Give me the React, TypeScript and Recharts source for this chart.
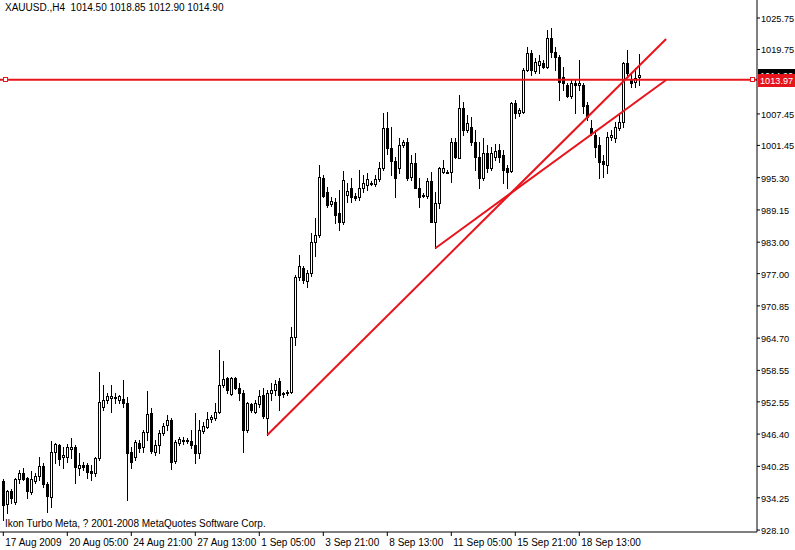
import React from 'react';
import { ComposedChart, Bar, XAxis, YAxis, ReferenceLine } from 'recharts';

// H4 bars, XAUUSD, 17 Aug 2009 .. 18 Sep 2009
const opens = [
  937.51, 933.07, 935.55, 933.39, 937.83, 938.92, 938.08, 935.41, 937.51, 938.41,
  940.31, 936.82, 934.46, 942.93, 944.32, 942.09, 942.09, 943.56, 944.0, 939.99,
  940.5, 940.56, 939.36, 938.92, 941.9, 951.51, 952.9, 953.22, 953.34, 952.9,
  953.03, 952.27, 943.04, 942.09, 944.64, 943.88, 946.86, 950.48, 943.04, 944.32,
  946.67, 948.13, 949.09, 941.27, 944.76, 945.14, 945.27, 945.14, 944.32, 942.74,
  947.05, 947.69, 949.33, 949.53, 950.55, 955.76, 957.04, 954.04, 957.04, 955.25,
  954.29, 947.18, 952.08, 950.67, 952.08, 953.85, 949.47, 954.18, 954.81, 956.58,
  954.18, 954.18, 954.43, 964.97, 976.36, 978.07, 975.59, 977.12, 983.03, 984.37,
  995.24, 992.57, 990.28, 990.72, 988.56, 986.84, 991.99, 993.33, 991.86, 991.61,
  993.33, 993.9, 994.23, 994.09, 995.04, 997.14, 1004.77, 1001.01, 998.48, 997.14,
  1001.53, 1002.16, 995.43, 998.1, 993.33, 991.99, 991.8, 994.66, 986.9, 990.47,
  996.44, 996.44, 996.32, 1002.16, 999.11, 1008.64, 1004.39, 1005.02, 1002.16, 999.3,
  995.29, 1000.0, 997.2, 999.3, 1000.57, 999.62, 997.14, 996.63, 1009.6, 1007.69,
  1007.88, 1015.83, 1019.02, 1015.7, 1016.78, 1017.11, 1016.46, 1021.88, 1019.32, 1018.25,
  1014.55, 1012.97, 1010.87, 1013.29, 1012.97, 1012.97, 1009.16, 1004.71, 1003.44, 1001.53,
  998.53, 997.71, 1003.0, 1002.81, 1004.71, 1005.97, 1017.11, 1014.06, 1013.6, 1014.5,
];
const highs = [
  937.83, 935.74, 935.87, 937.97, 939.55, 939.87, 938.27, 939.42, 939.04, 942.09,
  940.83, 937.32, 945.14, 944.76, 944.51, 944.0, 944.51, 945.6, 944.32, 942.74,
  941.13, 940.83, 940.5, 942.09, 958.3, 955.76, 954.18, 955.76, 954.18, 953.85,
  956.71, 953.53, 944.0, 945.27, 945.27, 947.18, 954.62, 951.43, 945.27, 947.18,
  948.46, 950.04, 949.41, 945.27, 945.79, 945.79, 945.6, 947.18, 950.36, 949.09,
  948.76, 950.67, 950.04, 952.27, 962.43, 960.4, 957.34, 957.34, 957.34, 956.08,
  954.81, 952.58, 952.27, 952.9, 954.81, 955.13, 954.81, 956.08, 956.71, 957.04,
  954.48, 954.81, 966.88, 976.74, 980.55, 978.45, 977.69, 984.75, 987.61, 997.71,
  995.81, 993.58, 991.67, 991.36, 992.95, 996.57, 994.23, 995.18, 992.32, 996.76,
  995.81, 996.13, 994.66, 995.81, 998.34, 1007.57, 1007.88, 1005.02, 999.3, 1002.81,
  1002.48, 1002.81, 999.62, 999.95, 995.18, 992.32, 995.18, 996.44, 992.62, 997.39,
  998.67, 996.76, 1002.81, 1002.81, 1011.06, 1009.79, 1007.25, 1006.93, 1004.39, 1002.16,
  1002.81, 1001.53, 1001.2, 1001.66, 1001.66, 1000.57, 997.71, 1009.79, 1010.11, 1008.58,
  1016.16, 1020.27, 1019.64, 1018.06, 1018.69, 1017.74, 1023.46, 1023.78, 1020.27, 1018.69,
  1016.46, 1013.29, 1014.06, 1013.93, 1017.74, 1013.29, 1009.79, 1006.3, 1004.39, 1003.11,
  999.62, 1004.06, 1004.39, 1005.97, 1007.57, 1017.41, 1019.64, 1015.2, 1016.16, 1018.85,
];
const lows = [
  930.02, 931.35, 933.2, 933.07, 937.01, 937.64, 934.15, 934.97, 937.13, 937.64,
  936.37, 931.6, 932.44, 940.83, 940.5, 939.87, 941.13, 941.78, 937.01, 938.6,
  939.55, 937.97, 937.64, 938.41, 941.46, 950.99, 952.27, 950.67, 952.39, 952.39,
  951.62, 933.83, 939.87, 941.46, 943.04, 943.04, 945.27, 942.74, 942.41, 942.74,
  946.23, 947.18, 939.68, 940.83, 944.32, 944.51, 944.64, 943.69, 940.94, 941.78,
  946.55, 947.5, 948.76, 949.09, 950.36, 955.44, 954.18, 953.85, 954.94, 952.9,
  942.93, 946.86, 950.67, 950.36, 951.62, 949.41, 946.23, 952.9, 953.85, 950.99,
  953.53, 953.85, 954.18, 963.39, 975.78, 975.15, 974.51, 976.55, 980.36, 984.04,
  991.67, 989.76, 989.9, 986.6, 985.32, 986.46, 990.72, 990.72, 991.04, 991.04,
  992.62, 992.95, 993.9, 993.71, 994.66, 996.76, 999.76, 995.81, 991.67, 996.13,
  1001.2, 994.85, 994.85, 993.27, 989.76, 991.61, 991.36, 986.84, 981.83, 989.46,
  996.19, 996.13, 994.53, 998.99, 998.99, 1003.44, 1004.06, 1001.53, 996.76, 993.27,
  994.85, 996.44, 996.76, 998.67, 998.29, 994.23, 993.33, 996.38, 1006.62, 1007.06,
  1007.57, 1015.64, 1014.88, 1015.2, 1015.2, 1016.16, 1016.16, 1018.37, 1015.83, 1010.11,
  1012.02, 1010.74, 1010.49, 1007.57, 1012.02, 1007.57, 1006.3, 1003.44, 999.3, 995.18,
  995.48, 996.13, 1002.48, 1002.16, 1004.39, 1005.02, 1014.88, 1012.65, 1012.65, 1012.9,
];
const closes = [
  932.88, 935.55, 934.27, 937.83, 938.92, 937.89, 935.55, 937.83, 938.41, 940.31,
  936.82, 934.65, 942.93, 944.51, 941.59, 942.35, 943.88, 943.88, 940.18, 940.5,
  940.07, 939.23, 938.92, 941.78, 952.46, 952.9, 953.72, 953.66, 953.53, 953.66,
  952.27, 942.85, 941.13, 944.95, 943.69, 946.86, 950.23, 943.23, 944.32, 946.55,
  947.94, 949.09, 941.13, 944.83, 945.41, 945.27, 945.08, 944.32, 942.74, 947.18,
  947.94, 949.22, 949.72, 950.67, 955.76, 956.85, 954.81, 957.04, 955.25, 954.29,
  947.18, 952.27, 950.99, 952.27, 953.66, 949.85, 954.18, 954.81, 955.95, 953.85,
  954.29, 954.48, 964.91, 976.41, 978.45, 975.78, 977.12, 983.03, 984.37, 995.48,
  991.8, 990.09, 990.85, 988.18, 986.79, 994.85, 992.76, 991.67, 991.48, 993.33,
  994.28, 995.04, 994.28, 995.04, 997.14, 1004.77, 1000.96, 998.48, 995.24, 1001.53,
  1002.16, 995.29, 998.1, 993.39, 991.67, 991.86, 994.66, 986.9, 990.47, 997.14,
  997.2, 996.38, 1002.16, 999.3, 1008.64, 1004.39, 1005.72, 1002.16, 999.3, 995.29,
  1000.0, 997.14, 1000.0, 1000.38, 999.3, 996.76, 996.44, 1009.6, 1007.57, 1008.2,
  1015.83, 1019.02, 1015.83, 1017.41, 1017.6, 1016.46, 1021.88, 1019.32, 1018.25, 1013.6,
  1013.29, 1010.87, 1013.29, 1012.97, 1013.29, 1008.97, 1006.93, 1003.87, 1001.2, 998.34,
  997.91, 1003.11, 1003.44, 1004.9, 1005.97, 1017.22, 1015.2, 1013.41, 1014.25, 1014.9,
];

const timeTickIdx = [0, 16, 32, 48, 64, 80, 96, 112, 128, 144];
const timeLabels = [
  '17 Aug 2009', '20 Aug 05:00', '24 Aug 21:00', '27 Aug 13:00', '1 Sep 05:00',
  '3 Sep 21:00', '8 Sep 13:00', '11 Sep 05:00', '15 Sep 21:00', '18 Sep 13:00',
];
const priceTicks = [
  1025.75, 1019.75, 1007.45, 1001.45, 995.3, 989.15, 983.0, 977.0, 970.85,
  964.7, 958.55, 952.55, 946.4, 940.25, 934.25, 928.1,
];

const levelPrice = 1013.97;
const lastPrice = 1014.9;
const trendLine1 = [{ x: 66, y: 946.23 }, { x: 165.7, y: 1021.74 }];
const trendLine2 = [{ x: 108, y: 981.83 }, { x: 165.7, y: 1013.93 }];

const candles = closes.map((c, i) => ({
  i,
  open: opens[i],
  high: highs[i],
  low: lows[i],
  close: c,
  range: [lows[i], highs[i]],
}));

const RED = '#e8141c';
const FONT = '"Liberation Sans", Arial, sans-serif';
const AXIS_FONT_SIZE = 9.2;

const Candle = (props: any) => {
  const { x, y, width, height, payload } = props;
  if (x == null || y == null) return null;
  const { open, close, high, low } = payload;
  const top = Math.min(y, y + height);
  const h = Math.abs(height);
  const toY = (p: number) => (high === low ? top : top + ((high - p) / (high - low)) * h);
  const cx = Math.round(x + width / 2);
  const left = cx - 1;
  const bull = close >= open;
  const yO = toY(open);
  const yC = toY(close);
  const bTop = Math.round(Math.min(yO, yC));
  const bBot = Math.max(Math.round(Math.max(yO, yC)), bTop + 1);
  return (
    <g>
      <line x1={cx + 0.5} x2={cx + 0.5} y1={Math.round(top)} y2={Math.round(top + h) + 1} stroke="#000" strokeWidth={1} />
      {bull ? (
        <rect x={left + 0.5} y={bTop + 0.5} width={2} height={bBot - bTop} fill="#fff" stroke="#000" strokeWidth={1} />
      ) : (
        <rect x={left} y={bTop} width={3} height={bBot - bTop + 1} fill="#000" />
      )}
    </g>
  );
};

const TimeTick = (props: any) => {
  const { x, y, payload } = props;
  const k = timeTickIdx.indexOf(payload.value);
  return (
    <text x={x + 2} y={y + 8} fontSize={10} fontFamily={FONT} fill="#000" textAnchor="start">
      {timeLabels[k]}
    </text>
  );
};

const PriceTick = (props: any) => {
  const { x, y, payload } = props;
  return (
    <text x={x} y={y + 4} fontSize={AXIS_FONT_SIZE} fontFamily={FONT} fill="#000" textAnchor="start">
      {payload.value.toFixed(2)}
    </text>
  );
};

const PriceBox = ({ viewBox, text, bg, markers }: any) => {
  if (!viewBox) return null;
  const ly = Math.round(viewBox.y);
  const right = viewBox.x + viewBox.width;
  return (
    <g>
      {markers && (
        <>
          <rect x={viewBox.x + 3.5} y={ly - 2.5} width={4} height={4} fill="#fff" stroke={RED} strokeWidth={1} />
          <rect x={right - 6.5} y={ly - 2.5} width={4} height={4} fill="#fff" stroke={RED} strokeWidth={1} />
        </>
      )}
      <rect x={right + 1} y={ly - 6} width={38} height={13} fill={bg} />
      <text x={right + 3} y={ly + 4} fontSize={AXIS_FONT_SIZE} fontFamily={FONT} fill="#fff" textAnchor="start">
        {text}
      </text>
    </g>
  );
};

export default function App() {
  return (
    <div style={{ position: 'absolute', left: 0, top: 0, width: 795, height: 550, background: '#fff' }}>
      <ComposedChart width={795} height={550} data={candles} margin={{ top: 0, right: 0, bottom: 0, left: 0 }}>
        <XAxis
          type="number"
          dataKey="i"
          domain={[-0.825, 188.425]}
          allowDataOverflow
          ticks={timeTickIdx}
          interval={0}
          height={18}
          tickSize={4}
          tickMargin={2}
          axisLine={{ stroke: '#000' }}
          tickLine={{ stroke: '#000' }}
          tick={<TimeTick />}
        />
        <YAxis
          orientation="right"
          type="number"
          domain={[927.73, 1029.18]}
          allowDataOverflow
          ticks={priceTicks}
          interval={0}
          width={38}
          tickSize={3}
          tickMargin={1}
          axisLine={{ stroke: '#000' }}
          tickLine={{ stroke: '#000' }}
          tick={<PriceTick />}
        />
        <Bar dataKey="range" barSize={3} shape={<Candle />} isAnimationActive={false} />
        <ReferenceLine segment={trendLine1} stroke={RED} strokeWidth={2} ifOverflow="visible" />
        <ReferenceLine segment={trendLine2} stroke={RED} strokeWidth={2} ifOverflow="visible" />
        <ReferenceLine
          y={lastPrice}
          stroke="none"
          ifOverflow="visible"
          label={<PriceBox text={lastPrice.toFixed(2)} bg="#000" />}
        />
        <ReferenceLine
          y={levelPrice}
          stroke={RED}
          strokeWidth={2}
          ifOverflow="visible"
          label={<PriceBox text={levelPrice.toFixed(2)} bg={RED} markers />}
        />
      </ComposedChart>
      <div style={{ position: 'absolute', left: 5, top: 2, fontFamily: FONT, fontSize: 10, whiteSpace: 'pre', color: '#000' }}>
        {'XAUUSD.,H4  1014.50 1018.85 1012.90 1014.90'}
      </div>
      <div style={{ position: 'absolute', left: 5, top: 518, fontFamily: FONT, fontSize: 10, whiteSpace: 'pre', color: '#000' }}>
        {'Ikon Turbo Meta, ? 2001-2008 MetaQuotes Software Corp.'}
      </div>
    </div>
  );
}
